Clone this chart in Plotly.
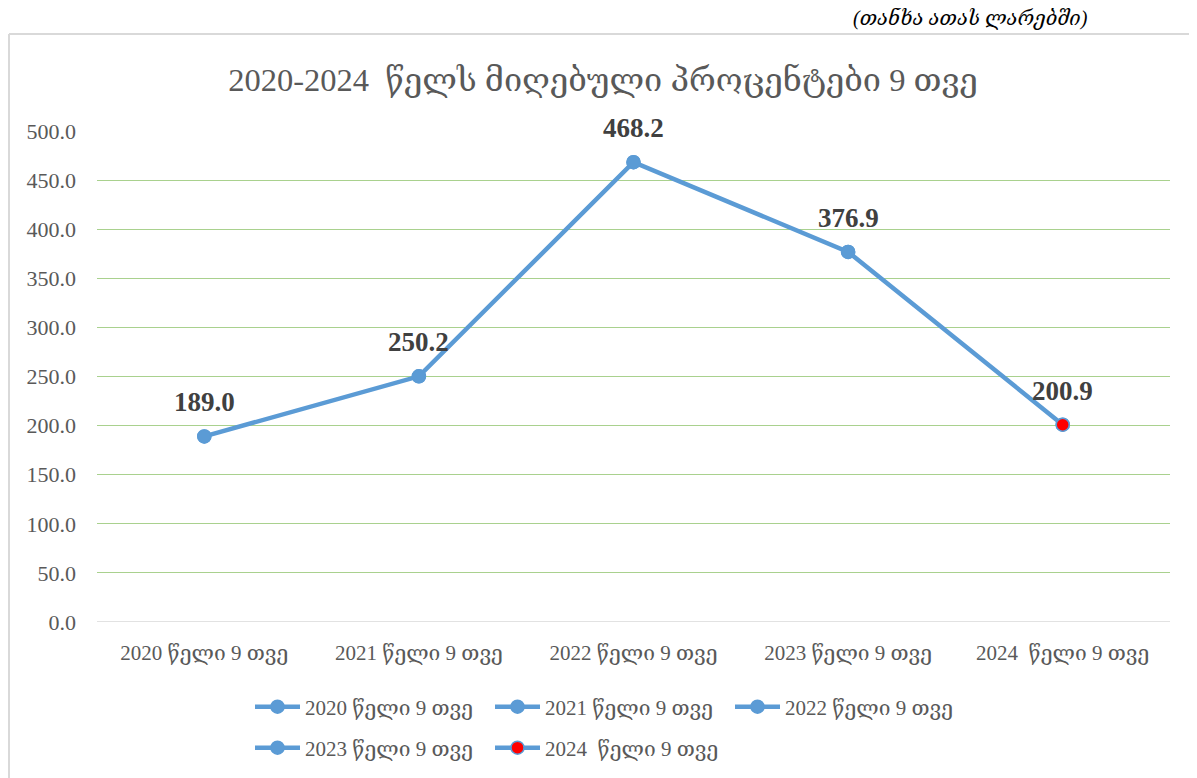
import plotly.graph_objects as go

categories = ["2020 წელი 9 თვე", "2021 წელი 9 თვე", "2022 წელი 9 თვე", "2023 წელი 9 თვე", "2024  წელი 9 თვე"]
values = [189.0, 250.2, 468.2, 376.9, 200.9]
marker_fill = ["#5B9BD5", "#5B9BD5", "#5B9BD5", "#5B9BD5", "#FF0000"]
legend_rows = ["legend", "legend", "legend", "legend2", "legend2"]
y_ticks = [0, 50, 100, 150, 200, 250, 300, 350, 400, 450, 500]

title_text = "2020-2024  წელს მიღებული პროცენტები 9 თვე"
unit_text = "(თანხა ათას ლარებში)"

FONT = "Liberation Serif, DejaVu Serif, serif"
BLUE = "#5B9BD5"

OFF = 8  # page body margin
W, H = 1197, 778
pw, ph = 1073, 491
L, T = 97 - OFF, 131 - OFF
R, B = W - L - pw, H - T - ph

def px_x(px):
    return (px - OFF - L) / pw

def px_y(py):
    return (T + ph - (py - OFF)) / ph

fig = go.Figure()

fig.add_trace(go.Scatter(
    x=categories, y=values, mode="lines+markers",
    line=dict(color=BLUE, width=4.5),
    marker=dict(size=13, color=marker_fill, line=dict(color=BLUE, width=1.5)),
    showlegend=False, cliponaxis=False, hoverinfo="skip",
))

for c, v, col, lg in zip(categories, values, marker_fill, legend_rows):
    fig.add_trace(go.Scatter(
        x=[c], y=[v], mode="lines+markers", name=c, legend=lg,
        line=dict(color=BLUE, width=4.5),
        marker=dict(size=13, color=col, line=dict(color=BLUE, width=1.5)),
        showlegend=True, cliponaxis=False,
    ))

label_annotations = [
    dict(x=c, y=v, xref="x", yref="y", text=f"<b>{v:.1f}</b>", showarrow=False,
         yanchor="middle", yshift=34,
         font=dict(family=FONT, size=27, color="#404040"))
    for c, v in zip(categories, values)
]

legend_common = dict(orientation="h", xanchor="left", yanchor="middle",
                     entrywidth=180, entrywidthmode="pixels",
                     font=dict(family=FONT, size=21, color="#595959"),
                     itemwidth=45, tracegroupgap=0, bgcolor="rgba(0,0,0,0)")

fig.update_layout(
    width=W, height=H,
    margin=dict(l=L, r=R, t=T, b=B),
    paper_bgcolor="white", plot_bgcolor="white",
    title=dict(text=title_text, x=(603 - OFF) / W, xanchor="center",
               y=1 - (80 - OFF) / H, yanchor="middle",
               font=dict(family=FONT, size=32.5, color="#595959")),
    xaxis=dict(type="category", showgrid=False, showline=False, ticks="",
               tickfont=dict(family=FONT, size=21, color="#595959"),
               ticklabelstandoff=16, range=[-0.5, 4.5]),
    yaxis=dict(range=[0, 500], tickvals=y_ticks, ticktext=[f"{t:.1f}" for t in y_ticks],
               showgrid=True, gridcolor="#A9D18E", gridwidth=1.3,
               zeroline=False, showline=False, ticks="",
               ticklabelstandoff=20,
               tickfont=dict(family=FONT, size=22, color="#595959")),
    legend=dict(legend_common, x=px_x(250), y=px_y(707)),
    legend2=dict(legend_common, x=px_x(250), y=px_y(748)),
    showlegend=True,
    shapes=[
        dict(type="line", xref="paper", yref="paper", x0=px_x(9), x1=px_x(W + 20),
             y0=px_y(34), y1=px_y(34), line=dict(color="#D9D9D9", width=2)),
        dict(type="line", xref="paper", yref="paper", x0=px_x(9), x1=px_x(9),
             y0=px_y(34), y1=px_y(H + 20), line=dict(color="#D9D9D9", width=2)),
        dict(type="line", xref="paper", yref="y", x0=0, x1=1, y0=0, y1=0,
             line=dict(color="#D9D9D9", width=1.5), layer="below"),
    ],
    annotations=label_annotations + [
        dict(text="<i>" + unit_text + "</i>", xref="paper", yref="paper",
             x=px_x(1090), y=px_y(18), xanchor="right", yanchor="middle",
             showarrow=False, font=dict(family=FONT, size=20, color="#000000")),
    ],
)

fig.write_html("out.html")
